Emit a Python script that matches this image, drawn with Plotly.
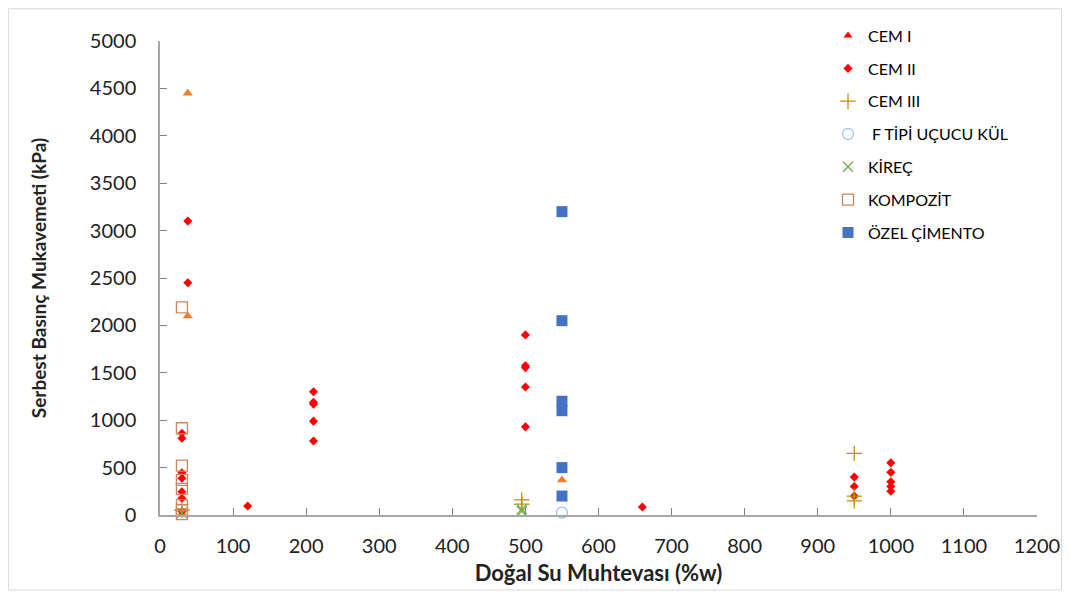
import plotly.graph_objects as go

# ---- data ----
cem1_x = [38, 38, 550, 30]
cem1_y = [4450, 2100, 370, 15]

cem2_x = [38, 38, 30, 30, 30, 30, 30, 30, 30, 120,
          210, 210, 210, 210, 210,
          500, 500, 500, 500, 500, 660,
          950, 950, 950, 1000, 1000, 1000, 1000, 1000]
cem2_y = [3100, 2450, 862, 809, 446, 387, 246, 176, 40, 95,
          1300, 1190, 1170, 990, 780,
          1900, 1575, 1555, 1350, 930, 85,
          400, 300, 200, 550, 450, 350, 300, 250]

cem3_x = [30, 495, 495, 950, 950, 950]
cem3_y = [50, 160, 115, 650, 200, 150]

fkul_x = [550]
fkul_y = [25]

kirec_x = [30, 495, 495]
kirec_y = [20, 60, 40]

komp_x = [30, 30, 30, 30, 30, 30, 30, 30]
komp_y = [2190, 915, 520, 370, 275, 105, 50, 10]

ozel_x = [550, 550, 550, 550, 550, 550]
ozel_y = [3200, 2050, 1200, 1100, 500, 200]

x_ticks = list(range(0, 1201, 100))
y_ticks = list(range(0, 5001, 500))

FONT = "Lato, 'Open Sans', sans-serif"

fig = go.Figure()

# legend-only entry for CEM I (legend marker is red)
fig.add_trace(go.Scatter(x=[None], y=[None], mode="markers", name="CEM I",
                         legendgroup="g1",
                         marker=dict(symbol="triangle-up", size=8, color="#FF0000")))
fig.add_trace(go.Scatter(x=cem1_x, y=cem1_y, mode="markers", name="CEM I",
                         showlegend=False, legendgroup="g1",
                         marker=dict(symbol="triangle-up", size=9, color="#ED7D31")))
fig.add_trace(go.Scatter(x=cem2_x, y=cem2_y, mode="markers", name="CEM II",
                         legendgroup="g2",
                         marker=dict(symbol="diamond", size=7, color="#FF0000")))
fig.add_trace(go.Scatter(x=cem3_x, y=cem3_y, mode="markers", name="CEM III",
                         legendgroup="g3",
                         marker=dict(symbol="cross-thin", size=11, color="#BF9000",
                                     line=dict(color="#BF9000", width=1.3))))
fig.add_trace(go.Scatter(x=fkul_x, y=fkul_y, mode="markers", name=" F TİPİ UÇUCU KÜL",
                         legendgroup="g4",
                         marker=dict(symbol="circle-open", size=11, color="#9DC3E6",
                                     line=dict(color="#9DC3E6", width=1.3))))
fig.add_trace(go.Scatter(x=kirec_x, y=kirec_y, mode="markers", name="KİREÇ",
                         legendgroup="g5",
                         marker=dict(symbol="x-thin", size=10, color="#70AD47",
                                     line=dict(color="#70AD47", width=1.3))))
fig.add_trace(go.Scatter(x=komp_x, y=komp_y, mode="markers", name="KOMPOZİT",
                         legendgroup="g6",
                         marker=dict(symbol="square-open", size=11, color="#D0865A",
                                     line=dict(color="#D0865A", width=1.3))))
fig.add_trace(go.Scatter(x=ozel_x, y=ozel_y, mode="markers", name="ÖZEL ÇİMENTO",
                         legendgroup="g7",
                         marker=dict(symbol="square", size=11, color="#4472C4")))

fig.update_traces(cliponaxis=False)

fig.update_layout(
    width=1054, height=586,
    paper_bgcolor="white", plot_bgcolor="white",
    margin=dict(l=152, r=25, t=33, b=79, autoexpand=False),
    font=dict(family=FONT, color="#000000"),
    showlegend=True,
    legend=dict(x=0.7617, y=1.047, xanchor="left", yanchor="top",
                font=dict(size=16, family=FONT, color="#000000"),
                tracegroupgap=9, itemwidth=30, bgcolor="rgba(0,0,0,0)"),
    xaxis=dict(range=[0, 1200], tickvals=x_ticks, ticktext=[str(v) for v in x_ticks],
               showgrid=False, zeroline=False, showline=True, linecolor="#A6A6A6",
               linewidth=1.5, ticks="inside", ticklen=7, tickcolor="#808080",
               ticklabelstandoff=12,
               tickfont=dict(size=20, family=FONT, color="#222222"),
               title=dict(text="<b>Doğal Su Muhtevası (%w)</b>",
                          font=dict(size=22, family=FONT, color="#222222"), standoff=10)),
    yaxis=dict(range=[0, 5000], tickvals=y_ticks, ticktext=[str(v) for v in y_ticks],
               showgrid=False, zeroline=False, showline=True, linecolor="#A6A6A6",
               linewidth=1.5, ticks="inside", ticklen=7, tickcolor="#808080",
               ticklabelstandoff=18,
               tickfont=dict(size=20, family=FONT, color="#222222"),
               title=dict(text="<b>Serbest Basınç Mukavemeti (kPa)</b>",
                          font=dict(size=19, family=FONT, color="#222222"), standoff=38)),
    shapes=[dict(type="rect", xref="paper", yref="paper",
                 x0=-0.1727, x1=1.0280, y0=-0.158, y1=1.068,
                 line=dict(color="#D9D9D9", width=1))],
)

fig.write_html("out.html")
